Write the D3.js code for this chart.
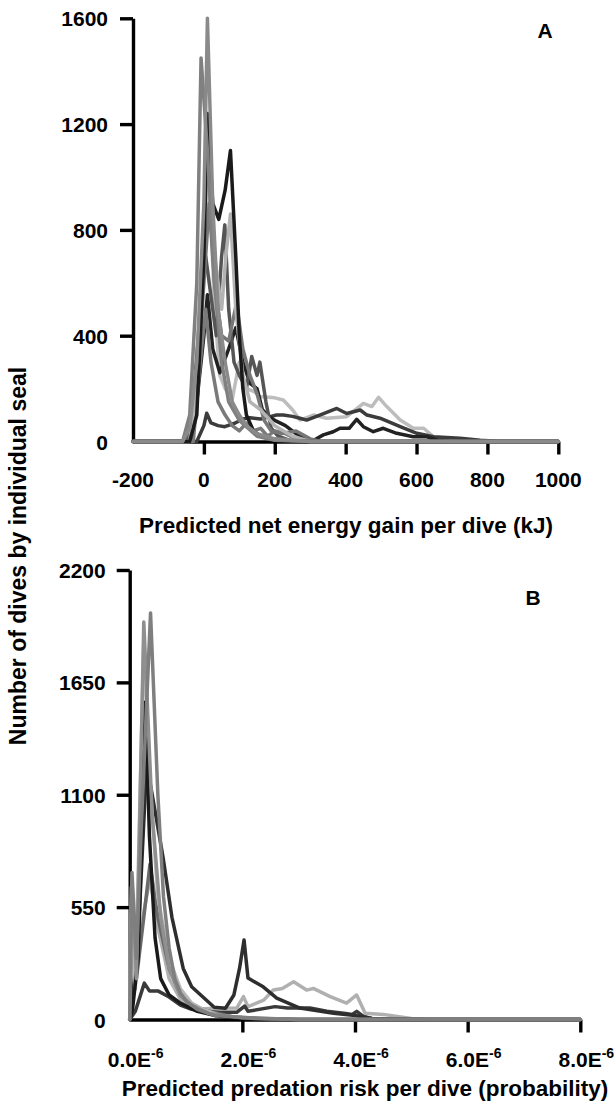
<!DOCTYPE html>
<html><head><meta charset="utf-8">
<script src="https://cdn.jsdelivr.net/npm/d3@7"></script>
<style>
html,body{margin:0;padding:0;background:#fff;}
svg text{font-family:"Liberation Sans",Arial,Helvetica,sans-serif;font-weight:bold;fill:#000;}
</style></head>
<body>
<svg id="c" width="614" height="1111"></svg>
<script>
// ---------- Panel A data: net energy gain (kJ) vs number of dives ----------
const aXTicks = [-200, 0, 200, 400, 600, 800, 1000];
const aYTicks = [0, 400, 800, 1200, 1600];
const aColors = ["#bdbdbd", "#3c3c3c", "#222222", "#7a7a7a", "#555555", "#777777", "#b3b3b3", "#1a1a1a", "#808080", "#8a8a8a"];
const aSeries = [
  [[-200,0],[-40,0],[-20,300],[0,700],[15,1000],[30,500],[45,250],[60,200],[80,160],[100,300],[120,200],[140,190],[158,170],[200,165],[224,157],[250,120],[271,81],[309,100],[346,88],[403,94],[450,144],[474,132],[493,167],[516,132],[554,81],[591,50],[620,50],[648,18],[676,5],[700,0],[1000,0]],
  [[-200,0],[-20,0],[0,60],[8,107],[20,70],[40,60],[59,56],[87,69],[110,85],[130,90],[160,85],[190,95],[205,100],[224,100],[250,95],[271,88],[290,81],[327,100],[375,125],[403,106],[441,119],[460,100],[497,88],[554,56],[601,31],[648,18],[723,12],[780,5],[836,0],[1000,0]],
  [[-200,0],[-40,0],[-20,150],[0,400],[10,555],[25,350],[45,260],[70,350],[90,430],[110,300],[130,220],[150,200],[165,120],[180,100],[200,80],[230,60],[260,30],[290,10],[310,5],[337,25],[365,37],[384,50],[410,50],[431,84],[450,56],[478,37],[506,50],[544,31],[591,18],[629,18],[660,5],[700,0],[1000,0]],
  [[-200,0],[-30,0],[-10,300],[5,500],[20,300],[40,150],[60,100],[80,60],[100,40],[120,70],[140,40],[160,50],[180,20],[200,40],[230,30],[260,10],[300,0],[1000,0]],
  [[-200,0],[-50,0],[-30,150],[-10,500],[5,700],[20,550],[35,400],[50,700],[59,819],[70,500],[85,300],[100,250],[120,200],[135,321],[150,250],[158,300],[175,150],[190,50],[210,20],[250,0],[1000,0]],
  [[-200,0],[-40,0],[-20,200],[0,600],[15,900],[30,600],[50,400],[70,380],[92,523],[110,350],[130,250],[150,180],[170,80],[190,40],[220,30],[260,40],[300,10],[330,0],[1000,0]],
  [[-200,0],[-40,0],[-20,200],[0,800],[12,1180],[30,700],[50,500],[62,700],[75,860],[90,500],[110,250],[130,150],[160,120],[200,60],[250,20],[300,0],[1000,0]],
  [[-200,0],[-40,0],[-20,100],[0,700],[10,1240],[25,900],[42,840],[60,950],[75,1100],[90,700],[100,400],[110,200],[120,100],[140,40],[160,20],[200,5],[300,0],[1000,0]],
  [[-200,0],[-60,0],[-40,100],[-20,600],[-8,1450],[10,1100],[30,600],[50,300],[70,150],[100,80],[150,20],[200,5],[300,0],[1000,0]],
  [[-200,0],[-60,0],[-40,50],[-20,300],[0,900],[10,1600],[25,900],[40,500],[60,300],[80,150],[100,100],[120,60],[150,30],[200,10],[300,0],[1000,0]]
];

// ---------- Panel B data: predation risk (x 1e-6) vs number of dives ----------
const bXTicks = [0, 2, 4, 6, 8];
const bYTicks = [0, 550, 1100, 1650, 2200];
const bColors = ["#b0b0b0", "#3a3a3a", "#2e2e2e", "#6a6a6a", "#b8b8b8", "#1a1a1a", "#8f8f8f", "#7f7f7f"];
const bSeries = [
  [[0,0],[0.04,600],[0.1,250],[0.2,450],[0.36,690],[0.5,450],[0.7,200],[0.9,100],[1.2,50],[1.5,55],[1.9,56],[2.02,112],[2.1,63],[2.38,95],[2.55,144],[2.71,152],[2.91,185],[3.14,144],[3.26,152],[3.56,112],[3.85,80],[4.03,120],[4.18,31],[4.5,25],[5,5],[5.3,0],[8,0]],
  [[0,0],[0.1,40],[0.26,178],[0.35,140],[0.5,140],[0.7,110],[0.9,70],[1.1,50],[1.3,40],[1.6,35],[1.9,35],[2.04,66],[2.1,40],[2.58,63],[2.8,56],[3.2,56],[3.5,40],[3.8,31],[3.95,25],[4.03,40],[4.15,15],[4.3,5],[4.6,0],[8,0]],
  [[0,0],[0.05,100],[0.15,400],[0.3,1250],[0.4,1100],[0.6,780],[0.75,500],[0.95,250],[1.1,160],[1.3,110],[1.5,60],[1.7,55],[1.85,120],[1.95,250],[2.03,389],[2.1,203],[2.37,160],[2.61,105],[3.02,56],[3.62,31],[4.0,20],[4.3,5],[5,0],[8,0]],
  [[0,0],[0.04,500],[0.12,200],[0.25,500],[0.36,760],[0.5,500],[0.7,250],[0.9,120],[1.1,70],[1.4,40],[1.8,15],[2.5,0],[8,0]],
  [[0,0],[0.03,650],[0.1,150],[0.25,1850],[0.35,1200],[0.5,600],[0.7,300],[0.9,150],[1.1,80],[1.3,50],[1.6,20],[2.2,5],[3,0],[8,0]],
  [[0,0],[0.05,50],[0.15,300],[0.28,1554],[0.35,900],[0.45,400],[0.55,200],[0.7,120],[0.9,80],[1.2,40],[1.5,20],[2,5],[3,0],[8,0]],
  [[0,0],[0.04,680],[0.12,200],[0.25,1945],[0.4,1000],[0.55,500],[0.7,250],[0.9,120],[1.1,70],[1.4,30],[2,8],[3,0],[8,0]],
  [[0,0],[0.04,720],[0.12,300],[0.2,900],[0.37,1990],[0.5,1100],[0.6,600],[0.7,350],[0.8,200],[0.9,130],[1.0,90],[1.2,50],[1.5,20],[2,10],[3,0],[8,0]]
];

const svg = d3.select("#c");

function panel(cfg){
  const g = svg.append("g");
  const x = d3.scaleLinear().domain(cfg.xd).range(cfg.xr);
  const y = d3.scaleLinear().domain(cfg.yd).range(cfg.yr);

  // x axis
  const xa = g.append("g").attr("transform", `translate(0,${cfg.yr[0]})`)
    .call(d3.axisBottom(x).tickValues(cfg.xTicks).tickSize(13).tickSizeOuter(0).tickFormat(()=>""));
  xa.selectAll(".tick").filter(d=>d===cfg.xd[0]).select("line").remove();
  // y axis
  const ya = g.append("g").attr("transform", `translate(${cfg.xr[0]},0)`)
    .call(d3.axisLeft(y).tickValues(cfg.yTicks).tickSize(13).tickSizeOuter(0).tickFormat(d3.format("d")));
  ya.selectAll(".tick").filter(d=>d===0).select("line").remove();
  [xa, ya].forEach(a=>{
    a.select(".domain").attr("stroke","#000").attr("stroke-width",3.4);
    a.selectAll(".tick line").attr("stroke","#000").attr("stroke-width",3.4);
  });
  ya.selectAll("text").attr("font-size",21).attr("dy","0.36em").attr("x",cfg.yLabX)
    .style("font-family","Liberation Sans, Arial, sans-serif").style("font-weight","bold");

  // x tick labels
  cfg.xTicks.forEach(v=>{
    const t = g.append("text").attr("x", x(v) + cfg.xLabShift(v)).attr("y", cfg.xLabY)
      .attr("text-anchor","middle").attr("font-size",21);
    cfg.xLab(t, v);
  });

  // series
  const line = d3.line().x(d=>x(d[0])).y(d=>y(d[1]));
  cfg.series.forEach((s,i)=>{
    g.append("path").datum(s).attr("d", line)
      .attr("fill","none").attr("stroke", cfg.colors[i]).attr("stroke-width",3.5)
      .attr("stroke-linejoin","round").attr("stroke-linecap","round");
  });
  return g;
}

panel({
  xd:[-200,1000], xr:[133,558.3], yd:[0,1600], yr:[441.5,18.3],
  xTicks:aXTicks, yTicks:aYTicks, series:aSeries, colors:aColors, yLabX:-25,
  xLabY:487, xLabShift:v=> 0,
  xLab:(t,v)=>t.text(String(v))
});
panel({
  xd:[0,8], xr:[129.7,580.3], yd:[0,2200], yr:[1019.5,570],
  xTicks:bXTicks, yTicks:bYTicks, series:bSeries, colors:bColors, yLabX:-24,
  xLabY:1067, xLabShift:v=> 6,
  xLab:(t,v)=>{ t.text(v.toFixed(1)+"E"); t.append("tspan").attr("font-size",14).attr("dy","-9").text("-6"); }
});

// titles
svg.append("text").attr("x",346).attr("y",533).attr("text-anchor","middle").attr("font-size",22.5)
  .text("Predicted net energy gain per dive (kJ)");
svg.append("text").attr("x",365).attr("y",1096).attr("text-anchor","middle").attr("font-size",22.5)
  .text("Predicted predation risk per dive (probability)");
svg.append("text").attr("transform","translate(26,556) rotate(-90)").attr("text-anchor","middle").attr("font-size",23)
  .text("Number of dives by individual seal");
svg.append("text").attr("x",545).attr("y",38).attr("text-anchor","middle").attr("font-size",21).text("A");
svg.append("text").attr("x",533).attr("y",605).attr("text-anchor","middle").attr("font-size",21).text("B");
</script>
</body></html>
